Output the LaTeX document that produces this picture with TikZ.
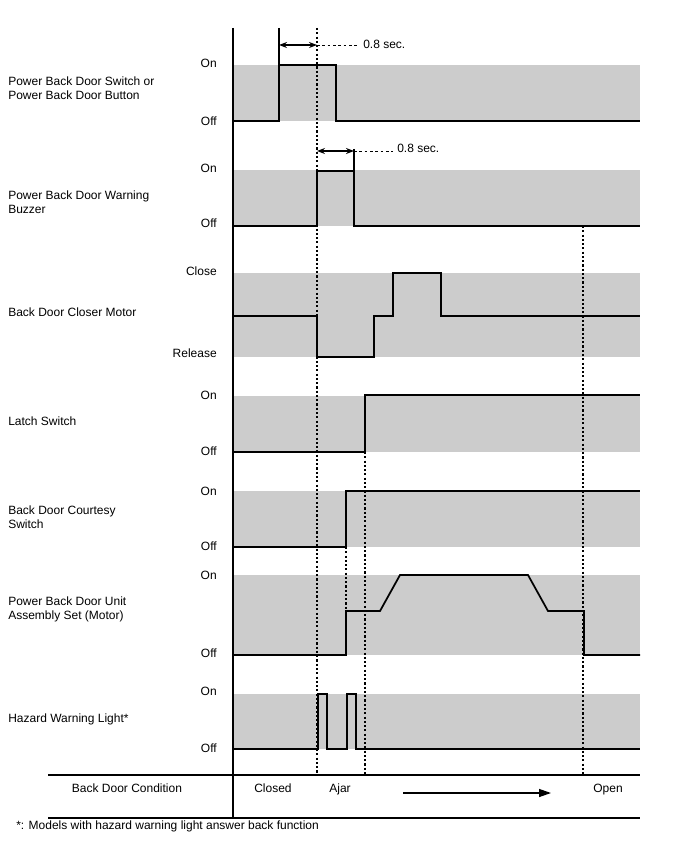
\documentclass[tikz,border=0pt]{standalone}
\usepackage{fontspec}
\setmainfont{Liberation Sans}
\usetikzlibrary{arrows.meta}
\begin{document}
\begin{tikzpicture}[x=0.75pt,y=-0.75pt,
  font=\fontsize{9}{10.5}\selectfont,
  band/.style={fill=gray!40, draw=none},
  sig/.style={line width=1.3pt, line join=miter},
  guide/.style={line width=1.2pt, dash pattern=on 1.6pt off 1.6pt},
  dimline/.style={line width=0.6pt, dash pattern=on 2pt off 2pt},
  extline/.style={line width=1pt},
  dimarrow/.style={line width=1pt, {Stealth[length=6pt,width=4.5pt]}-{Stealth[length=6pt,width=4.5pt]}},
  lbl/.style={anchor=west, align=left, inner sep=0},
  lvl/.style={anchor=east, inner sep=0},
  ctr/.style={anchor=base, inner sep=0},
  rule/.style={line width=1.3pt}]
\useasboundingbox (0,0) rectangle (688,852);

% bands
\fill[band] (233,65) rectangle (640,121);
\fill[band] (233,170) rectangle (640,226);
\fill[band] (233,273) rectangle (640,357);
\fill[band] (233,396) rectangle (640,452);
\fill[band] (233,491) rectangle (640,547);
\fill[band] (233,575) rectangle (640,655);
\fill[band] (233,694) rectangle (640,749);

% guide lines
\draw[guide] (317,28) -- (317,775);
\draw[guide] (365,452) -- (365,775);
\draw[guide] (346,547) -- (346,610);
\draw[guide] (583,226) -- (583,775);

% dimension 1
\coordinate (d1a) at (279,45);
\coordinate (d1b) at (317,45);
\coordinate (d1c) at (359,45);
\draw[extline] (279,28) -- (279,65);
\draw[dimarrow] (d1a) -- (d1b);
\draw[dimline] (d1b) -- (d1c);
\node[lbl] (t1) at (363,44) {0.8 sec.};

% dimension 2
\coordinate (d2a) at (317,151);
\coordinate (d2b) at (354,151);
\coordinate (d2c) at (393,151);
\draw[extline] (354,149) -- (354,170);
\draw[dimarrow] (d2a) -- (d2b);
\draw[dimline] (d2b) -- (d2c);
\node[lbl] (t2) at (397,148) {0.8 sec.};

% signals
\draw[sig] (233,121) -- (279,121) -- (279,65) -- (336,65) -- (336,121) -- (640,121);
\draw[sig] (233,226) -- (317,226) -- (317,171) -- (354,171) -- (354,226) -- (640,226);
\draw[sig] (233,316) -- (317,316) -- (317,357) -- (374,357) -- (374,316) -- (393,316) -- (393,273) -- (441,273) -- (441,316) -- (640,316);
\draw[sig] (233,452) -- (365,452) -- (365,395) -- (640,395);
\draw[sig] (233,547) -- (346,547) -- (346,491) -- (640,491);
\draw[sig] (233,655) -- (346,655) -- (346,611) -- (380,611) -- (400,575) -- (528,575) -- (548,611) -- (584,611) -- (584,655) -- (640,655);
\draw[sig] (233,749) -- (318,749) -- (318,694) -- (327,694) -- (327,749) -- (347,749) -- (347,694) -- (356,694) -- (356,749) -- (640,749);

% axis and table
\draw[rule] (233,28) -- (233,818);
\draw[rule] (48,775) -- (640,775);
\draw[rule] (48,818) -- (640,818);

% signal names
\node[lbl] (n1) at (8,88) {Power Back Door Switch or\\Power Back Door Button};
\node[lbl] (n2) at (8,202) {Power Back Door Warning\\Buzzer};
\node[lbl] (n3) at (8,312) {Back Door Closer Motor};
\node[lbl] (n4) at (8,421) {Latch Switch};
\node[lbl] (n5) at (8,517) {Back Door Courtesy\\Switch};
\node[lbl] (n6) at (8,609) {Power Back Door Unit\\Assembly Set (Motor)};
\node[lbl] (n7) at (8,719) {Hazard Warning Light*};

% level labels
\node[lvl] (l1a) at (217,63) {On};
\node[lvl] (l1b) at (217,121) {Off};
\node[lvl] (l2a) at (217,168) {On};
\node[lvl] (l2b) at (217,223) {Off};
\node[lvl] (l3a) at (217,271) {Close};
\node[lvl] (l3b) at (217,353) {Release};
\node[lvl] (l4a) at (217,395) {On};
\node[lvl] (l4b) at (217,451) {Off};
\node[lvl] (l5a) at (217,491) {On};
\node[lvl] (l5b) at (217,546) {Off};
\node[lvl] (l6a) at (217,575) {On};
\node[lvl] (l6b) at (217,653) {Off};
\node[lvl] (l7a) at (217,691) {On};
\node[lvl] (l7b) at (217,748) {Off};

% condition row
\node[ctr] (c0) at (127,792) {Back Door Condition};
\node[ctr] (c1) at (273,792) {Closed};
\node[ctr] (c2) at (340,792) {Ajar};
\node[ctr] (c3) at (608,792) {Open};
\coordinate (a1) at (403,793);
\coordinate (a2) at (551,793);
\draw[line width=1pt, -{Triangle[length=9pt,width=6pt]}] (a1) -- (a2);

\node[lbl] (fn) at (16,826) {*: Models with hazard warning light answer back function};
\end{tikzpicture}
\end{document}
